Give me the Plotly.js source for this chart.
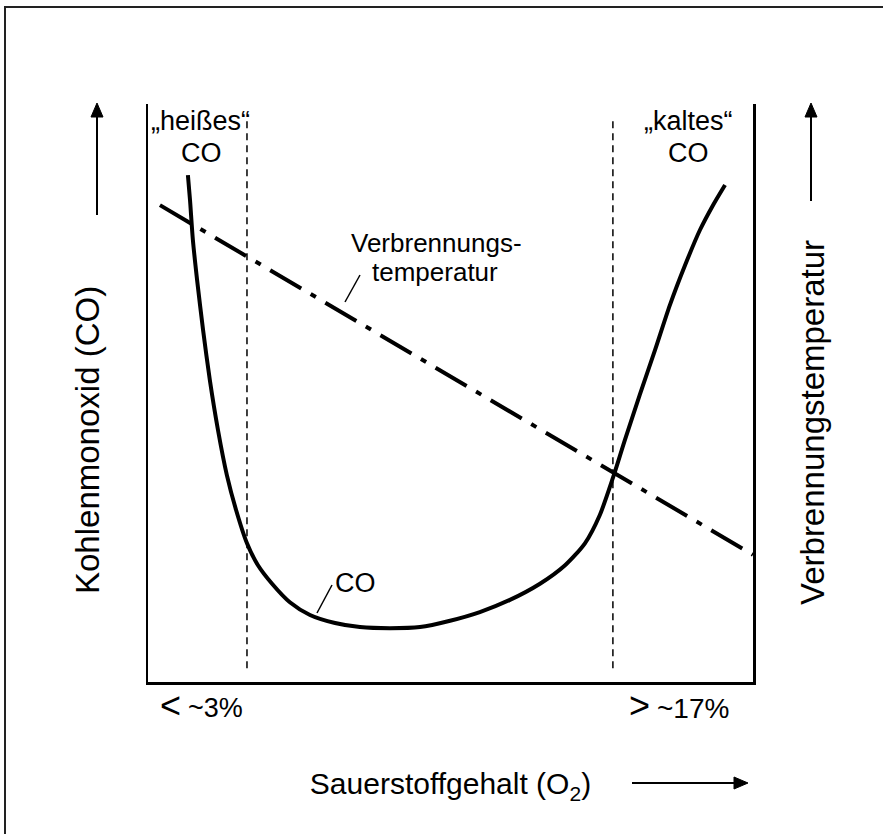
<!DOCTYPE html>
<html>
<head>
<meta charset="utf-8">
<script src="https://cdn.plot.ly/plotly-3.0.1.min.js"></script>
<style>
  html, body { margin: 0; padding: 0; background: #fff; }
  #wrap { position: relative; width: 883px; height: 834px; overflow: hidden; }
  #chart { position: absolute; left: 0; top: 0; width: 883px; height: 834px; }
  #frame { position: absolute; left: 4px; top: 6px; width: 900px; height: 900px;
           border-left: 2px solid #222; border-top: 2px solid #222; pointer-events: none; }
</style>
</head>
<body>
<div id="wrap"><div id="chart"></div><div id="frame"></div></div>
<script>
// ---- data (x: O2 content in %, y: relative level) ----
const coX = [0.74, 0.82, 0.93, 1.09, 1.32, 1.58, 1.89, 2.23, 2.58, 3.00, 3.42, 3.96, 4.64, 5.41, 6.37, 7.32, 8.47,
             9.62, 10.77, 11.91, 13.06, 14.21, 15.17, 15.93, 16.50, 17.00, 17.46, 18.03, 18.61, 19.18, 19.76, 20.33, 20.83, 21.29];
const coY = [87.7, 83.4, 76.5, 69.6, 60.9, 52.2, 43.6, 35.8, 29.8, 24.0, 20.2, 17.0, 13.8, 11.6, 10.2, 9.5, 9.3,
             9.5, 10.6, 12.1, 14.2, 17.0, 20.2, 24.0, 28.9, 35.3, 41.9, 49.7, 57.4, 65.2, 72.1, 78.2, 82.5, 86.0];
const tempX = [-0.33, 22.36];
const tempY = [82.5, 22.0];
const thresholds = [3, 17];
const thresholdSigns = ['<', '>'];
const thresholdLabels = ['~3%', '~17%'];

// ---- layout helpers (pixel -> paper) ----
const L = 148, R = 753, T = 104, B = 682;
const px = v => (v - L) / (R - L);
const py = v => (B - v) / (B - T);
const FONT = 'Liberation Sans, Arial, sans-serif';

const traces = [
  { x: coX, y: coY, mode: 'lines', line: { color: '#000', width: 4, shape: 'spline', smoothing: 0.7 },
    hoverinfo: 'skip', showlegend: false, cliponaxis: false },
  { x: tempX, y: tempY, mode: 'lines', line: { color: '#000', width: 4, dash: '36px,11px,6px,11px' },
    hoverinfo: 'skip', showlegend: false, cliponaxis: true }
];

const shapes = thresholds.map(t => ({
  type: 'line', xref: 'x', yref: 'y', x0: t, x1: t, y0: 2.4, y1: 97.6,
  line: { color: '#000', width: 1.5, dash: '7px,5px' }
}));
function seg(x0, y0, x1, y1, w) {
  return { type: 'line', xref: 'paper', yref: 'paper', x0: px(x0), y0: py(y0), x1: px(x1), y1: py(y1),
           line: { color: '#000', width: w } };
}
function tri(pts) {
  const p = pts.map((q, i) => (i ? 'L' : 'M') + px(q[0]) + ',' + py(q[1])).join(' ') + ' Z';
  return { type: 'path', xref: 'paper', yref: 'paper', path: p, fillcolor: '#000', line: { color: '#000', width: 1 } };
}
// leader lines from curve labels to the curves
shapes.push(seg(317, 613, 332, 585, 1.5));
shapes.push(seg(345, 302, 360, 275, 1.5));
// axis direction arrows
shapes.push(seg(97, 215, 97, 112, 2));
shapes.push(tri([[97, 103], [91, 117], [103, 117]]));
shapes.push(seg(811, 201, 811, 112, 2));
shapes.push(tri([[811, 103], [805, 117], [817, 117]]));
shapes.push(seg(632, 783, 738, 783, 2));
shapes.push(tri([[748, 783], [734, 777], [734, 789]]));

function txt(text, x, y, size, extra) {
  return Object.assign({ text: text, xref: 'paper', yref: 'paper', x: px(x), y: py(y),
    xanchor: 'center', yanchor: 'middle', showarrow: false,
    font: { family: FONT, size: size, color: '#000' } }, extra || {});
}

const annotations = [
  txt('„heißes“', 200, 121, 27),
  txt('CO', 201, 153, 27),
  txt('„kaltes“', 688, 121, 27),
  txt('CO', 688, 153, 27),
  txt('Verbrennungs-', 436, 243, 26),
  txt('temperatur', 435, 272, 26),
  txt('CO', 355, 583, 27),
  txt(thresholdSigns[0], 170, 705, 36),
  txt(thresholdLabels[0], 215, 708, 27),
  txt(thresholdSigns[1], 639, 705, 36),
  txt(thresholdLabels[1], 693, 708, 28),
  txt('Kohlenmonoxid (CO)', 87, 440, 33, { textangle: -90 }),
  txt('Verbrennungstemperatur', 812, 423, 33, { textangle: -90 })
];

const layout = {
  width: 883, height: 834,
  margin: { l: L, r: 883 - R, t: T, b: 834 - B, pad: 0 },
  paper_bgcolor: '#fff', plot_bgcolor: '#fff',
  showlegend: false,
  font: { family: FONT, size: 24, color: '#000' },
  xaxis: { range: [-0.787, 22.36], showline: true, linecolor: '#000', linewidth: 2.5,
           showgrid: false, zeroline: false, showticklabels: false, ticks: '', fixedrange: true,
           automargin: false,
           title: { text: 'Sauerstoffgehalt (O<sub>2</sub>)', standoff: 90,
                    font: { family: FONT, size: 30, color: '#000' } } },
  yaxis: { range: [0, 100], showline: true, mirror: true, linecolor: '#000', linewidth: 2.5,
           showgrid: false, zeroline: false, showticklabels: false, ticks: '', fixedrange: true },
  shapes: shapes,
  annotations: annotations
};

Plotly.newPlot('chart', traces, layout, { staticPlot: true, displayModeBar: false });
</script>
</body>
</html>
